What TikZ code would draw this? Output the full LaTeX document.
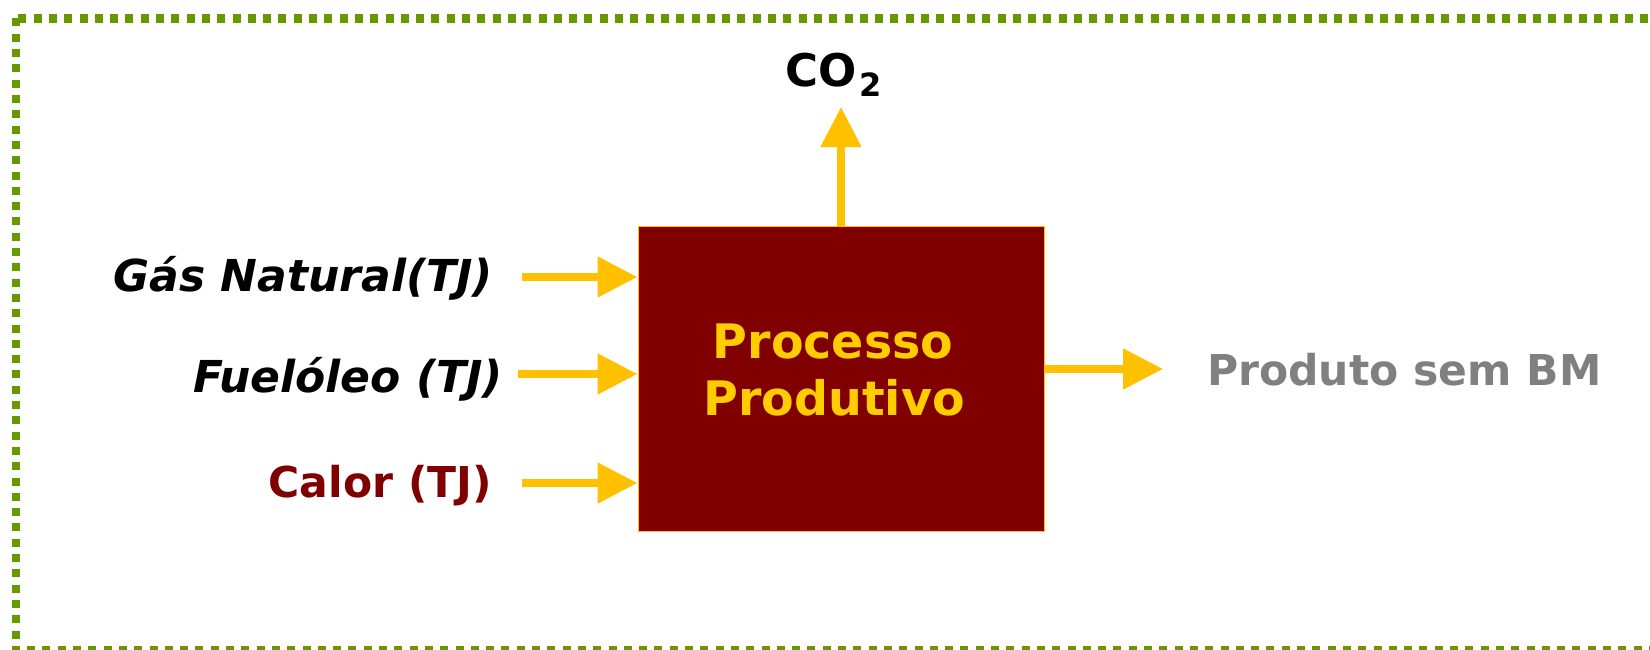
\documentclass[tikz,border=0pt]{standalone}
\usepackage{fontspec}
\setmainfont{DejaVu Sans}[BoldFont={DejaVu Sans Bold},ItalicFont={DejaVu Sans Oblique},BoldItalicFont={DejaVu Sans Bold Oblique}]
\usetikzlibrary{arrows.meta}
\definecolor{framegreen}{HTML}{669900}
\definecolor{arrowyellow}{HTML}{FFC000}
\definecolor{boxred}{HTML}{800000}
\definecolor{boxtext}{HTML}{FFCC00}
\definecolor{labelgrey}{HTML}{808080}
\begin{document}
\begin{tikzpicture}[x=1bp,y=-1bp,
  flow/.style={draw=arrowyellow, line width=8bp, -{Triangle[length=40bp,width=39bp]}},
  inlabel/.style={inner sep=0pt, anchor=base east, font=\fontsize{44bp}{50bp}\selectfont\bfseries\itshape},
  uplabel/.style={inner sep=0pt, font=\fontsize{42.5bp}{50bp}\selectfont\bfseries},
  proctext/.style={inner sep=0pt, anchor=base, text=boxtext, font=\fontsize{47.5bp}{57bp}\selectfont\bfseries}]
\useasboundingbox (0,0) rectangle (1650,650);
\begin{scope}
\clip (0,0) rectangle (1650,650);
\draw[framegreen, line width=8.5bp, dash pattern=on 8bp off 7.3bp] (16,18.5) rectangle (1700,650);
\end{scope}
% box
\node[draw=arrowyellow, line width=1bp, fill=boxred, minimum width=406bp, minimum height=304bp, inner sep=0pt] (proc) at (841,379) {};
\node[proctext] (proc1) at (833,358) {Processo};
\node[proctext] (proc2) at (834,415) {Produtivo};
% input labels
\node[inlabel] (gas) at (493,291) {Gás Natural(TJ)};
\node[inlabel] (fuel) at (503,392) {Fuelóleo (TJ)};
\node[uplabel, anchor=base east, text=boxred] (calor) at (492,497) {Calor (TJ)};
\node[uplabel, anchor=base west, text=labelgrey] (prod) at (1207,385) {Produto sem BM};
\node[uplabel, anchor=base west, font=\fontsize{45bp}{50bp}\selectfont\bfseries] (co2) at (785,87) {CO\hspace{3bp}\raisebox{-10bp}{\fontsize{32bp}{32bp}\selectfont 2}};
% connector ends
\coordinate (g0) at (522,277);
\coordinate (f0) at (518,374);
\coordinate (c0) at (522,483);
\coordinate (p1) at (1163,369);
\coordinate (co2tip) at (841,107);
\draw[flow] (g0) -- (proc.west |- g0);
\draw[flow] (f0) -- (proc.west |- f0);
\draw[flow] (c0) -- (proc.west |- c0);
\draw[flow] (proc.east |- p1) -- (p1);
\draw[flow] (proc.north) -- (co2tip);
\end{tikzpicture}
\end{document}
